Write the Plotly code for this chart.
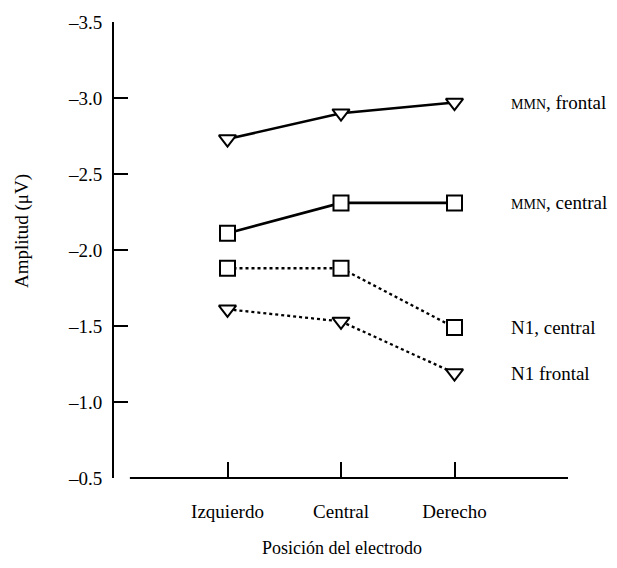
import plotly.graph_objects as go

categories = ["Izquierdo", "Central", "Derecho"]
x_pos = [1, 2, 3]

mmn_frontal = [-2.73, -2.90, -2.97]
mmn_central = [-2.11, -2.31, -2.31]
n1_central = [-1.88, -1.88, -1.49]
n1_frontal = [-1.61, -1.53, -1.19]

series_labels = ["<span style='font-size:14px'>MMN</span>, frontal",
                 "<span style='font-size:14px'>MMN</span>, central",
                 "N1, central",
                 "N1 frontal"]

y_ticks = [-3.5, -3.0, -2.5, -2.0, -1.5, -1.0, -0.5]
y_ticktext = ["\u2013" + f"{abs(v):.1f}" for v in y_ticks]

FONT = "Liberation Serif"

fig = go.Figure()

series = [
    (mmn_frontal, "triangle-down", "solid", 2.6, 15),
    (mmn_central, "square", "solid", 2.6, 15),
    (n1_central, "square", "dot", 2.3, 15),
    (n1_frontal, "triangle-down", "dot", 2.3, 15),
]
for vals, sym, dash, lw, ms in series:
    fig.add_trace(go.Scatter(
        x=x_pos, y=vals, mode="lines+markers",
        line=dict(color="black", width=lw, dash=dash),
        marker=dict(symbol=sym, size=ms, color="white",
                    line=dict(color="black", width=2)),
        showlegend=False, cliponaxis=False,
    ))

for vals, lab in zip([mmn_frontal, mmn_central, n1_central, n1_frontal], series_labels):
    fig.add_annotation(x=3.48, y=vals[-1], xref="x", yref="y", text=lab,
                       showarrow=False, xanchor="left", yanchor="middle",
                       font=dict(family=FONT, size=19, color="black"))

# x axis baseline (detached from y axis)
fig.add_shape(type="line", xref="x", yref="paper", x0=0.14, x1=4.0, y0=0, y1=0,
              line=dict(color="black", width=2))

fig.add_annotation(x=0.502, y=-0.153, xref="paper", yref="paper",
                   text="Posici\u00f3n del electrodo", showarrow=False,
                   xanchor="center", yanchor="middle",
                   font=dict(family=FONT, size=18, color="black"))
fig.add_annotation(x=-0.2026, y=0.5415, xref="paper", yref="paper",
                   text="Amplitud (\u03bcV)", showarrow=False, textangle=-90,
                   xanchor="center", yanchor="middle",
                   font=dict(family=FONT, size=19, color="black"))

fig.update_layout(
    width=617, height=568,
    margin=dict(l=114, r=49, t=20, b=90),
    paper_bgcolor="white", plot_bgcolor="white",
    font=dict(family=FONT, size=19, color="black"),
    xaxis=dict(range=[0, 4.0], tickvals=x_pos + [4], ticktext=categories + [""],
               ticks="inside", ticklen=16, tickwidth=2, tickcolor="black",
               showline=False, showgrid=False, zeroline=False,
               ticklabelstandoff=20, tickfont=dict(size=19)),
    yaxis=dict(range=[-0.5, -3.5], tickvals=y_ticks, ticktext=y_ticktext,
               ticks="inside", ticklen=14, tickwidth=2, tickcolor="black",
               showline=True, linewidth=2, linecolor="black",
               showgrid=False, zeroline=False, ticklabelstandoff=6,
               tickfont=dict(size=19)),
)

fig.write_html("out.html", config={"displayModeBar": False},
               post_script="document.body.style.margin='0';")
